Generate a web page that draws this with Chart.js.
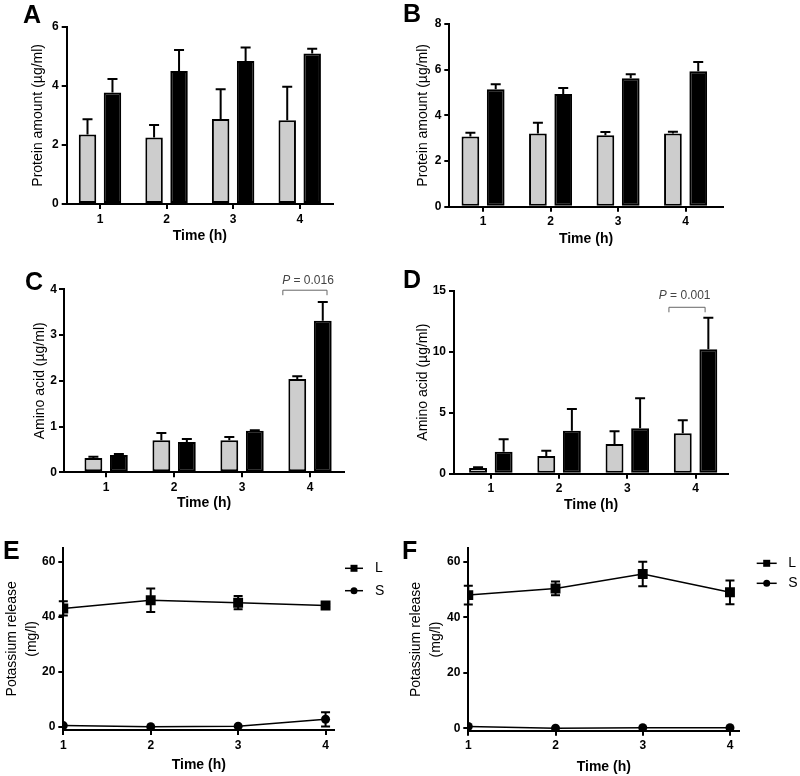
<!DOCTYPE html>
<html>
<head>
<meta charset="utf-8">
<script src="https://cdn.jsdelivr.net/npm/chart.js@4.4.1/dist/chart.umd.min.js"></script>
<style>
  html, body { margin: 0; padding: 0; background: #fff; }
  #fig { position: relative; width: 800px; height: 776px; }
  #fig canvas { position: absolute; }
</style>
</head>
<body>
<div id="fig">
  <canvas id="panelA"></canvas>
  <canvas id="panelB"></canvas>
  <canvas id="panelC"></canvas>
  <canvas id="panelD"></canvas>
  <canvas id="panelE"></canvas>
  <canvas id="panelF"></canvas>
</div>
<script>
// time points (h)
const hours = [1, 2, 3, 4];

// A - protein amount
const aGray = [2.35, 2.25, 2.88, 2.83];
const aGrayErr = [0.52, 0.42, 1.00, 1.14];
const aBlack = [3.77, 4.50, 4.84, 5.09];
const aBlackErr = [0.46, 0.71, 0.46, 0.16];
const aTicks = [0, 2, 4, 6];

// B - protein amount
const bGray = [3.07, 3.21, 3.13, 3.21];
const bGrayErr = [0.17, 0.47, 0.14, 0.07];
const bBlack = [5.14, 4.94, 5.62, 5.93];
const bBlackErr = [0.22, 0.26, 0.18, 0.41];
const bTicks = [0, 2, 4, 6, 8];

// C - amino acid
const cGray = [0.31, 0.70, 0.70, 2.04];
const cGrayErr = [0.03, 0.16, 0.07, 0.06];
const cBlack = [0.38, 0.66, 0.91, 3.31];
const cBlackErr = [0.02, 0.07, 0.01, 0.41];
const cTicks = [0, 1, 2, 3, 4];

// D - amino acid
const dGray = [0.47, 1.45, 2.43, 3.31];
const dGrayErr = [0.05, 0.44, 1.04, 1.07];
const dBlack = [1.80, 3.52, 3.72, 10.2];
const dBlackErr = [1.02, 1.78, 2.46, 2.59];
const dTicks = [0, 5, 10, 15];

// E - potassium release
const eL = [43.0, 46.0, 45.1, 44.1];
const eLErr = [2.6, 4.3, 2.4, 0.5];
const eS = [0.4, 0.0, 0.2, 2.7];
const eSErr = [0, 0, 0, 2.6];

// F - potassium release
const fL = [48.1, 50.5, 55.7, 49.1];
const fLErr = [3.4, 2.5, 4.4, 4.3];
const fS = [0.6, 0.0, 0.2, 0.2];
const fSErr = [0, 0, 0, 0];
const kTicks = [0, 20, 40, 60];

const seriesNames = ['L', 'S'];

Chart.defaults.font.family = "'Liberation Sans', Arial, sans-serif";
Chart.defaults.color = '#000';

// light grey fill of the original bars
const barGrey = '#cdcdcd';

const pts = (xs, ys) => xs.map((x, i) => ({ x: x, y: ys[i] }));

// error bars, panel letter, p-value bracket and legend
function decor(p) {
    return {
        id: 'decor',
        afterDatasetsDraw(chart) {
            const ctx = chart.ctx;
            const ys = chart.scales.y;
            ctx.save();
            ctx.strokeStyle = '#000';
            ctx.lineWidth = 2;
            chart.data.datasets.forEach((ds, di) => {
                const errs = p.errors[di];
                chart.getDatasetMeta(di).data.forEach((el, i) => {
                    const e = errs[i];
                    if (!e) return;
                    const v = ds.data[i].y;
                    const yTop = ys.getPixelForValue(v + e);
                    const yBot = ys.getPixelForValue(p.bars ? v : v - e);
                    const cap = p.bars ? 5 : 4.5;
                    ctx.beginPath();
                    ctx.moveTo(el.x, yBot);
                    ctx.lineTo(el.x, yTop);
                    ctx.moveTo(el.x - cap, yTop);
                    ctx.lineTo(el.x + cap, yTop);
                    if (!p.bars) {
                        ctx.moveTo(el.x - cap, yBot);
                        ctx.lineTo(el.x + cap, yBot);
                    }
                    ctx.stroke();
                });
            });
            ctx.restore();
        },
        afterDraw(chart) {
            const ctx = chart.ctx;
            const [bx, by] = p.box;
            ctx.save();
            // panel letter
            ctx.fillStyle = '#000';
            ctx.font = "bold 25px 'Liberation Sans', Arial, sans-serif";
            ctx.textBaseline = 'alphabetic';
            ctx.fillText(p.letter, p.letterPos[0] - bx, p.letterPos[1] - by);

            // significance bracket
            if (p.pval) {
                const xs = chart.scales.x, ys = chart.scales.y;
                const x0 = xs.getPixelForValue(p.pval.x0);
                const x1 = xs.getPixelForValue(p.pval.x1);
                const y = ys.getPixelForValue(p.pval.y);
                ctx.strokeStyle = '#666';
                ctx.lineWidth = 1;
                ctx.beginPath();
                ctx.moveTo(x0, y + 5);
                ctx.lineTo(x0, y);
                ctx.lineTo(x1, y);
                ctx.lineTo(x1, y + 5);
                ctx.stroke();
                ctx.fillStyle = '#444';
                ctx.textBaseline = 'middle';
                ctx.font = "italic 12px 'Liberation Sans', Arial, sans-serif";
                const w1 = ctx.measureText('P').width;
                ctx.font = "12px 'Liberation Sans', Arial, sans-serif";
                const w2 = ctx.measureText(p.pval.text).width;
                const tx = xs.getPixelForValue(p.pval.tx) - (w1 + w2) / 2;
                const ty = ys.getPixelForValue(p.pval.ty);
                ctx.font = "italic 12px 'Liberation Sans', Arial, sans-serif";
                ctx.fillText('P', tx, ty);
                ctx.font = "12px 'Liberation Sans', Arial, sans-serif";
                ctx.fillText(p.pval.text, tx + w1, ty);
            }

            // legend for the line panels
            if (p.legend) {
                const lg = p.legend;
                ctx.strokeStyle = '#000';
                ctx.fillStyle = '#000';
                ctx.lineWidth = 1.5;
                ctx.textBaseline = 'middle';
                ctx.font = "14px 'Liberation Sans', Arial, sans-serif";
                seriesNames.forEach((name, i) => {
                    const y = lg.y[i] - by;
                    ctx.beginPath();
                    ctx.moveTo(lg.x0 - bx, y);
                    ctx.lineTo(lg.x1 - bx, y);
                    ctx.stroke();
                    const mx = (lg.x0 + lg.x1) / 2 - bx;
                    ctx.beginPath();
                    if (i === 0) {
                        ctx.rect(mx - 3.5, y - 3.5, 7, 7);
                    } else {
                        ctx.arc(mx, y, 3.5, 0, Math.PI * 2);
                    }
                    ctx.fill();
                    ctx.fillText(name, lg.tx - bx, y);
                });
            }
            ctx.restore();
        }
    };
}

function makePanel(p) {
    const canvas = document.getElementById(p.id);
    const [bx, by, bw, bh] = p.box;
    const [l, t, r, b] = p.area;
    canvas.width = bw;
    canvas.height = bh;
    canvas.style.left = bx + 'px';
    canvas.style.top = by + 'px';
    const ctx = canvas.getContext('2d');

    const xLh = 14 * 1.2;
    const yLh = p.yLineHeight || 14 * 1.2;
    const axisGrid = { display: true, drawOnChartArea: false, drawTicks: true, tickLength: 5, color: '#000', lineWidth: 2 };
    const axisBorder = { display: true, color: '#000', width: 2 };

    let datasets;
    if (p.bars) {
        datasets = [
            { data: pts(hours, p.series[0]), backgroundColor: barGrey, borderColor: '#000',
              borderWidth: 2, borderSkipped: false, categoryPercentage: 0.75, barPercentage: 0.7 },
            { data: pts(hours, p.series[1]), backgroundColor: '#000', borderColor: '#000',
              borderWidth: 2, borderSkipped: false, categoryPercentage: 0.75, barPercentage: 0.7 }
        ];
    } else {
        datasets = [
            { data: pts(hours, p.series[0]), borderColor: '#000', borderWidth: 1.5, tension: 0,
              pointStyle: 'rect', pointRadius: 7, pointBackgroundColor: '#000', pointBorderWidth: 0 },
            { data: pts(hours, p.series[1]), borderColor: '#000', borderWidth: 1.5, tension: 0,
              pointStyle: 'circle', pointRadius: 4.5, pointBackgroundColor: '#000', pointBorderWidth: 0 }
        ];
    }

    new Chart(ctx, {
        type: p.bars ? 'bar' : 'line',
        data: { datasets: datasets },
        plugins: [decor(p)],
        options: {
            responsive: false,
            animation: false,
            devicePixelRatio: 1,
            layout: { padding: { left: 0, top: t - by, right: bx + bw - r, bottom: 0 } },
            plugins: { legend: { display: false }, tooltip: { enabled: false } },
            scales: {
                x: {
                    type: 'linear',
                    min: p.xRange[0],
                    max: p.xRange[1],
                    offset: false,
                    afterBuildTicks: s => { s.ticks = hours.map(v => ({ value: v })); },
                    afterFit: s => { s.height = by + bh - b; },
                    grid: Object.assign({ offset: false }, axisGrid),
                    border: axisBorder,
                    ticks: { font: { size: 12, weight: 'bold' }, color: '#000', padding: 3, maxRotation: 0 },
                    title: {
                        display: true, text: 'Time (h)', color: '#000',
                        font: { size: 14, weight: 'bold' },
                        padding: { top: 0, bottom: by + bh - p.xTitleY - xLh / 2 }
                    }
                },
                y: {
                    type: 'linear',
                    min: p.yRange[0],
                    max: p.yRange[1],
                    afterBuildTicks: s => { s.ticks = p.yTicks.map(v => ({ value: v })); },
                    afterFit: s => { s.width = l - bx; },
                    grid: axisGrid,
                    border: axisBorder,
                    ticks: { font: { size: 12, weight: 'bold' }, color: '#000', padding: p.yTickPad || 3 },
                    title: {
                        display: true, text: p.yTitle, color: '#000',
                        font: { size: 14, lineHeight: yLh + 'px' },
                        padding: { top: p.yTitleX - bx - yLh / 2, bottom: 0 }
                    }
                }
            }
        }
    });
}

makePanel({
    id: 'panelA', letter: 'A', letterPos: [23, 23], bars: true,
    box: [0, 0, 400, 250], area: [66.7, 26.7, 333, 204],
    xRange: [0.5, 4.5], yRange: [0, 6], yTicks: aTicks,
    series: [aGray, aBlack], errors: [aGrayErr, aBlackErr],
    yTitle: 'Protein amount (µg/ml)', yTitleX: 38, xTitleY: 236
});

makePanel({
    id: 'panelB', letter: 'B', letterPos: [403, 22], bars: true,
    box: [400, 0, 400, 250], area: [449.3, 24, 722.7, 206.7],
    xRange: [0.5, 4.55], yRange: [0, 8], yTicks: bTicks,
    series: [bGray, bBlack], errors: [bGrayErr, bBlackErr],
    yTitle: 'Protein amount (µg/ml)', yTitleX: 423, xTitleY: 239.5
});

makePanel({
    id: 'panelC', letter: 'C', letterPos: [25, 290], bars: true,
    box: [0, 250, 400, 275], area: [64, 289.3, 344, 472.3],
    xRange: [0.38, 4.5], yRange: [0, 4], yTicks: cTicks, yTickPad: 2,
    series: [cGray, cBlack], errors: [cGrayErr, cBlackErr],
    yTitle: 'Amino acid (µg/ml)', yTitleX: 40.5, xTitleY: 503,
    pval: { text: ' = 0.016', x0: 3.6, x1: 4.25, y: 3.98, tx: 3.97, ty: 4.19 }
});

makePanel({
    id: 'panelD', letter: 'D', letterPos: [403, 288], bars: true,
    box: [400, 250, 400, 275], area: [454, 290.7, 728.3, 473.7],
    xRange: [0.46, 4.48], yRange: [0, 15], yTicks: dTicks,
    series: [dGray, dBlack], errors: [dGrayErr, dBlackErr],
    yTitle: 'Amino acid (µg/ml)', yTitleX: 423, xTitleY: 505,
    pval: { text: ' = 0.001', x0: 3.61, x1: 4.14, y: 13.64, tx: 3.84, ty: 14.57 }
});

makePanel({
    id: 'panelE', letter: 'E', letterPos: [3, 559], bars: false,
    box: [0, 525, 400, 251], area: [63.3, 547.7, 334.3, 730],
    xRange: [1, 4.1], yRange: [-1.2, 65.1], yTicks: kTicks,
    series: [eL, eS], errors: [eLErr, eSErr],
    yTitle: ['Potassium release', '(mg/l)'], yLineHeight: 20, yTitleX: 11.7, xTitleY: 765,
    legend: { x0: 345, x1: 363, tx: 375, y: [568.3, 590.7] }
});

makePanel({
    id: 'panelF', letter: 'F', letterPos: [402, 559], bars: false,
    box: [400, 525, 400, 251], area: [468.3, 548.3, 739.3, 730.7],
    xRange: [1, 4.107], yRange: [-0.9, 65], yTicks: kTicks,
    series: [fL, fS], errors: [fLErr, fSErr],
    yTitle: ['Potassium release', '(mg/l)'], yLineHeight: 20, yTitleX: 416, xTitleY: 766.7,
    legend: { x0: 756.7, x1: 776.7, tx: 788.3, y: [563.3, 583.3] }
});
</script>
</body>
</html>
